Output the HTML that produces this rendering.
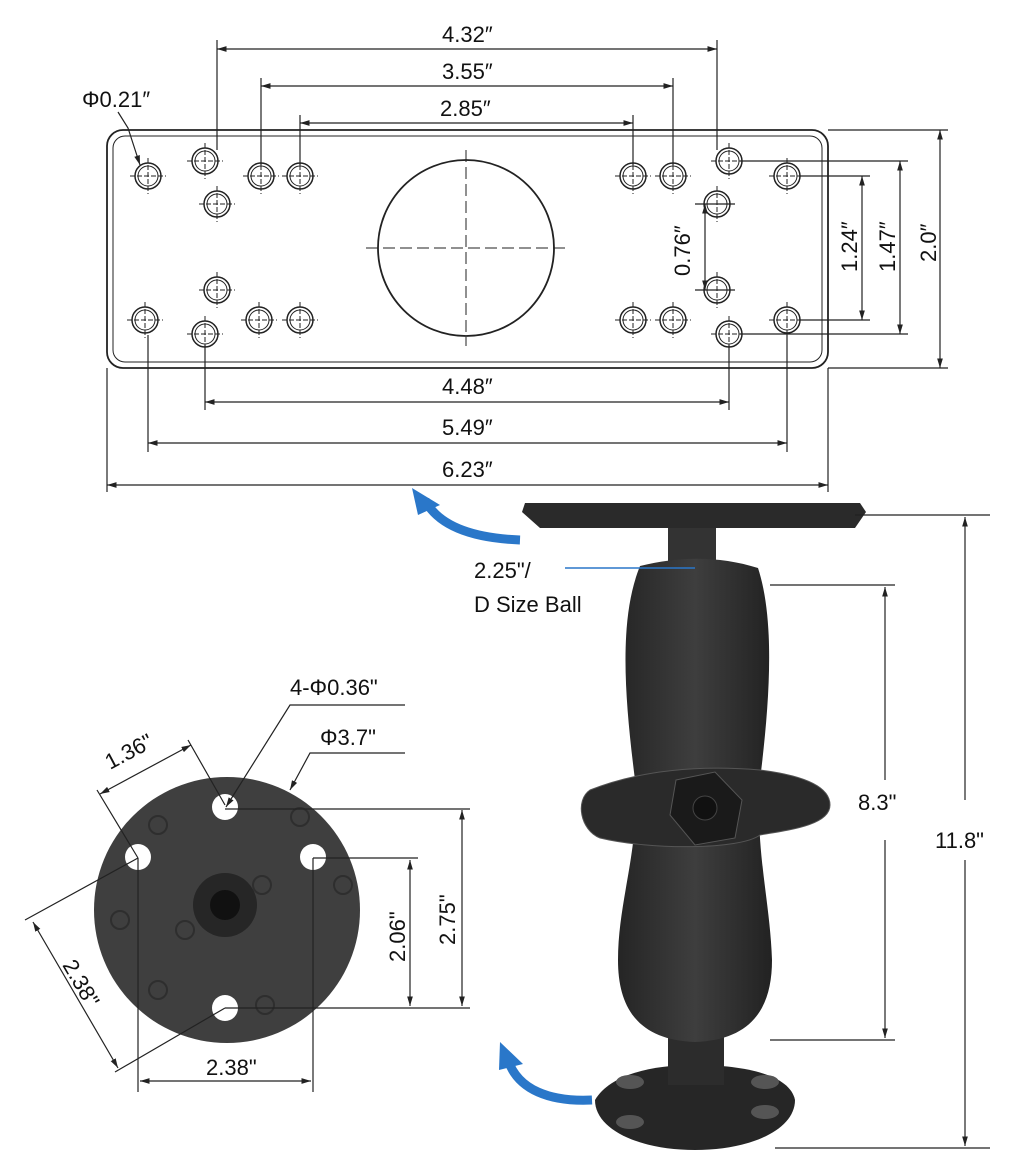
<!DOCTYPE html>
<html><head><meta charset="utf-8"><style>
html,body{margin:0;padding:0;background:#fff;}
svg{display:block;}
text{font-family:"Liberation Sans",sans-serif;font-size:22px;fill:#111;}
</style></head><body>
<svg width="1024" height="1170" viewBox="0 0 1024 1170" xmlns="http://www.w3.org/2000/svg">
<defs>
<marker id="a" viewBox="0 0 10 10" refX="10" refY="5" markerWidth="8" markerHeight="8" orient="auto-start-reverse"><path d="M0,2 L10,5 L0,8 z" fill="#222"/></marker>
<g id="h"><circle r="13" fill="none" stroke="#222" stroke-width="1.5"/><circle r="10" fill="none" stroke="#222" stroke-width="1"/><path d="M-18,0H18M0,-18V18" stroke="#222" stroke-width="1" stroke-dasharray="5,2"/></g>
<linearGradient id="g" x1="0" x2="1"><stop offset="0" stop-color="#252525"/><stop offset="0.5" stop-color="#3e3e3e"/><stop offset="1" stop-color="#222"/></linearGradient>
</defs>
<!-- plate -->
<rect x="107" y="130" width="721" height="238" rx="16" fill="none" stroke="#222" stroke-width="1.8"/>
<rect x="113" y="136" width="709" height="226" rx="12" fill="none" stroke="#222" stroke-width="1"/>
<circle cx="466" cy="248" r="88" fill="none" stroke="#222" stroke-width="1.8"/>
<path d="M366,248H566M466,150V346" stroke="#222" stroke-width="1" stroke-dasharray="12,5"/>
<g>
<use href="#h" x="148" y="176"/><use href="#h" x="205" y="161"/><use href="#h" x="217" y="204"/><use href="#h" x="261" y="176"/><use href="#h" x="300" y="176"/>
<use href="#h" x="633" y="176"/><use href="#h" x="673" y="176"/><use href="#h" x="729" y="161"/><use href="#h" x="717" y="204"/><use href="#h" x="787" y="176"/>
<use href="#h" x="145" y="320"/><use href="#h" x="205" y="334"/><use href="#h" x="217" y="290"/><use href="#h" x="259" y="320"/><use href="#h" x="300" y="320"/>
<use href="#h" x="633" y="320"/><use href="#h" x="673" y="320"/><use href="#h" x="729" y="334"/><use href="#h" x="717" y="290"/><use href="#h" x="787" y="320"/>
</g>
<g stroke="#222" stroke-width="1.2" fill="none">
<path d="M217,40V150M717,40V150M261,78V165M673,78V165M300,115V165M633,115V165"/>
<line x1="217" y1="49" x2="717" y2="49" marker-start="url(#a)" marker-end="url(#a)"/>
<line x1="261" y1="86" x2="673" y2="86" marker-start="url(#a)" marker-end="url(#a)"/>
<line x1="300" y1="123" x2="633" y2="123" marker-start="url(#a)" marker-end="url(#a)"/>
<path d="M205,345V410M729,345V410M148,335V452M787,335V452M107,368V492M828,368V492"/>
<line x1="205" y1="402" x2="729" y2="402" marker-start="url(#a)" marker-end="url(#a)"/>
<line x1="148" y1="443" x2="787" y2="443" marker-start="url(#a)" marker-end="url(#a)"/>
<line x1="107" y1="485" x2="828" y2="485" marker-start="url(#a)" marker-end="url(#a)"/>
<path d="M695,204H735M695,290H735"/>
<line x1="705" y1="204" x2="705" y2="290" marker-start="url(#a)" marker-end="url(#a)"/>
<path d="M800,176H870M800,320H870M740,161H908M740,334H908M828,130H948M828,368H948"/>
<line x1="862" y1="176" x2="862" y2="320" marker-start="url(#a)" marker-end="url(#a)"/>
<line x1="900" y1="161" x2="900" y2="334" marker-start="url(#a)" marker-end="url(#a)"/>
<line x1="940" y1="130" x2="940" y2="368" marker-start="url(#a)" marker-end="url(#a)"/>
<path d="M118,112 L128,128 L140,165" marker-end="url(#a)"/>
</g>
<text x="442" y="42">4.32″</text><text x="442" y="79">3.55″</text><text x="440" y="116">2.85″</text>
<text x="442" y="394">4.48″</text><text x="442" y="435">5.49″</text><text x="442" y="477">6.23″</text>
<text x="82" y="107">Φ0.21″</text>
<text transform="translate(690,276) rotate(-90)">0.76″</text>
<text transform="translate(857,272) rotate(-90)">1.24″</text>
<text transform="translate(895,272) rotate(-90)">1.47″</text>
<text transform="translate(936,262) rotate(-90)">2.0″</text>
<!-- blue arrows -->
<path d="M520,540 C470,538 438,525 425,500" stroke="#2a77c9" stroke-width="9" fill="none"/>
<path d="M412,488 L440,505 L418,515 z" fill="#2a77c9"/>
<path d="M592,1100 C550,1102 518,1090 508,1060" stroke="#2a77c9" stroke-width="9" fill="none"/>
<path d="M500,1042 L523,1064 L499,1070 z" fill="#2a77c9"/>
<!-- mount photo -->
<path d="M595,1100 C610,1075 650,1065 695,1065 C745,1065 790,1075 795,1100 C795,1130 750,1150 695,1150 C640,1150 595,1130 595,1100z" fill="#262626"/>
<rect x="668" y="1030" width="56" height="55" fill="#2c2c2c"/>
<ellipse cx="630" cy="1082" rx="14" ry="7" fill="#555"/><ellipse cx="765" cy="1082" rx="14" ry="7" fill="#555"/><ellipse cx="630" cy="1122" rx="14" ry="7" fill="#555"/><ellipse cx="765" cy="1112" rx="14" ry="7" fill="#555"/>
<path d="M525,503 H860 L866,512 L855,528 H540 L522,512 z" fill="#2a2a2a"/>
<rect x="668" y="528" width="48" height="45" fill="#333"/>
<path d="M640,566 C680,556 720,556 758,568 C775,620 770,700 760,780 C755,850 770,900 772,960 C772,1010 750,1040 695,1042 C640,1040 618,1010 618,960 C618,900 640,850 635,780 C625,700 618,620 640,566z" fill="url(#g)"/>
<path d="M590,790 C640,770 700,765 760,770 C800,775 830,785 830,805 C830,825 790,830 760,835 C740,850 650,850 600,838 C580,830 575,800 590,790z" fill="#2a2a2a" stroke="#555"/>
<path d="M676,780 L715,772 L742,800 L735,838 L695,845 L670,815z" fill="#1a1a1a" stroke="#555"/>
<circle cx="705" cy="808" r="12" fill="#111" stroke="#444"/>
<text x="474" y="578">2.25"/</text><text x="474" y="612">D Size Ball</text>
<line x1="565" y1="568" x2="695" y2="568" stroke="#2a77c9" stroke-width="1.5"/>
<g stroke="#222" stroke-width="1.2" fill="none">
<path d="M770,585H895M770,1040H895M855,515H990M775,1148H990"/>
<line x1="885" y1="587" x2="885" y2="780" marker-start="url(#a)"/><line x1="885" y1="840" x2="885" y2="1038" marker-end="url(#a)"/>
<line x1="965" y1="517" x2="965" y2="800" marker-start="url(#a)"/><line x1="965" y1="860" x2="965" y2="1146" marker-end="url(#a)"/>
</g>
<text x="858" y="810">8.3"</text><text x="935" y="848">11.8"</text>
<!-- round base -->
<circle cx="227" cy="910" r="133" fill="#3f3f3f"/>
<circle cx="225" cy="905" r="32" fill="#262626"/><circle cx="225" cy="905" r="15" fill="#111"/>
<g fill="none" stroke="#2e2e2e" stroke-width="2"><circle cx="158" cy="825" r="9"/><circle cx="300" cy="817" r="9"/><circle cx="343" cy="885" r="9"/><circle cx="120" cy="920" r="9"/><circle cx="158" cy="990" r="9"/><circle cx="265" cy="1005" r="9"/><circle cx="185" cy="930" r="9"/><circle cx="262" cy="885" r="9"/></g>
<g fill="#fff"><circle cx="225" cy="807" r="13"/><circle cx="138" cy="857" r="13"/><circle cx="313" cy="857" r="13"/><circle cx="225" cy="1008" r="13"/></g>
<g stroke="#222" stroke-width="1.2" fill="none">
<path d="M225,809H470M313,858H418M225,1008H470"/>
<line x1="462" y1="810" x2="462" y2="1006" marker-start="url(#a)" marker-end="url(#a)"/>
<line x1="410" y1="860" x2="410" y2="1006" marker-start="url(#a)" marker-end="url(#a)"/>
<path d="M138,858V1092M313,858V1092"/>
<line x1="140" y1="1081" x2="311" y2="1081" marker-start="url(#a)" marker-end="url(#a)"/>
<path d="M138,858 L25,920M225,1008 L115,1072M138,858 L97,790M225,805 L188,740"/>
<line x1="33" y1="922" x2="118" y2="1068" marker-start="url(#a)" marker-end="url(#a)"/>
<line x1="100" y1="794" x2="191" y2="745" marker-start="url(#a)" marker-end="url(#a)"/>
<path d="M405,705 H290 L226,807" marker-end="url(#a)"/>
<path d="M405,753 H310 L290,790" marker-end="url(#a)"/>
</g>
<text x="290" y="695">4-Φ0.36"</text><text x="320" y="745">Φ3.7"</text>
<text transform="translate(455,945) rotate(-90)">2.75"</text>
<text transform="translate(405,962) rotate(-90)">2.06"</text>
<text x="206" y="1075">2.38"</text>
<text transform="translate(110,770) rotate(-28)">1.36"</text>
<text transform="translate(62,965) rotate(60)">2.38"</text>
</svg>
</body></html>
